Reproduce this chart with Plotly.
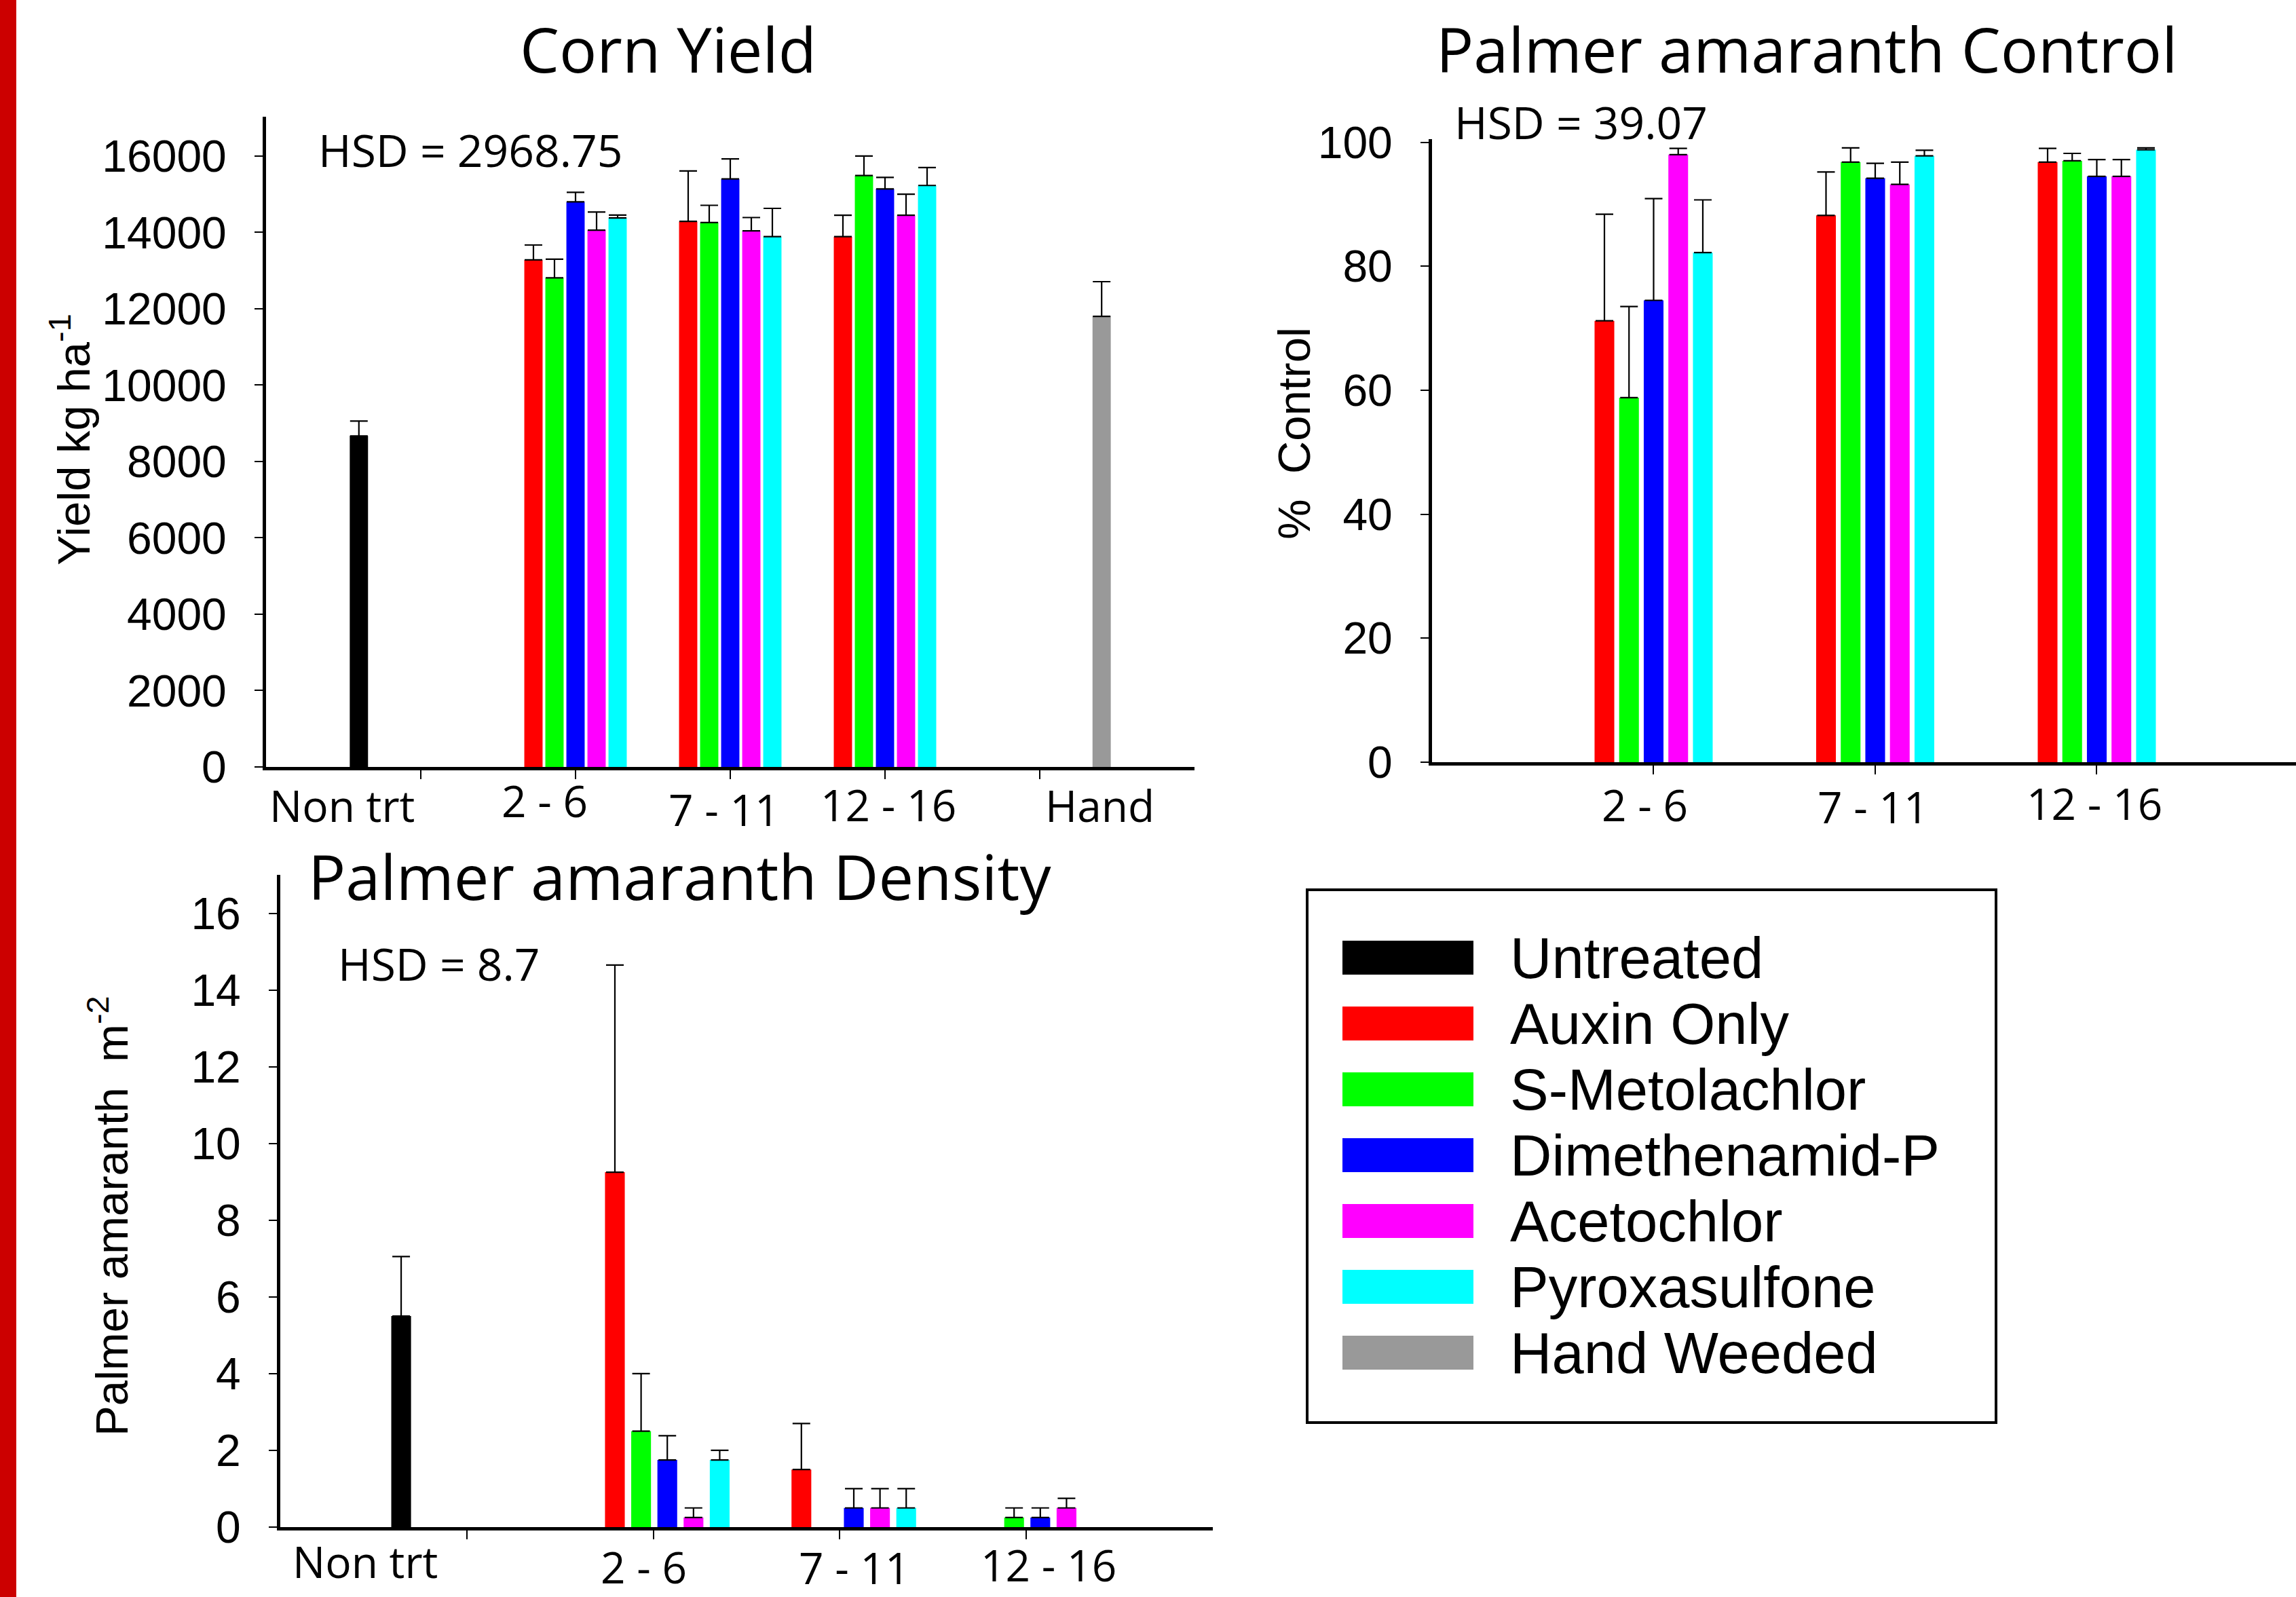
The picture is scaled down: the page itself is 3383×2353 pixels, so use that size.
import plotly.graph_objects as go

W, H = 3383, 2353

def px(x):
    return x / W

def py(y):
    return 1 - y / H

# ---------------- data ----------------
groups = ["2 - 6", "7 - 11", "12 - 16"]
treatments = ["Auxin Only", "S-Metolachlor", "Dimethenamid-P", "Acetochlor", "Pyroxasulfone"]
legend_names = ["Untreated", "Auxin Only", "S-Metolachlor", "Dimethenamid-P",
                "Acetochlor", "Pyroxasulfone", "Hand Weeded"]
legend_colors = ["#000000", "#FF0000", "#00FF00", "#0000FF", "#FF00FF", "#00FFFF", "#999999"]
trt_colors = ["#FF0000", "#00FF00", "#0000FF", "#FF00FF", "#00FFFF"]

# Corn yield (kg/ha)
yield_untreated = [8670]
yield_untreated_err = [390]
yield_hand = [11800]
yield_hand_err = [910]
yield_auxin = [13280, 14290, 13890]
yield_auxin_err = [390, 1320, 560]
yield_smet = [12810, 14260, 15490]
yield_smet_err = [490, 450, 510]
yield_dmta = [14800, 15400, 15140]
yield_dmta_err = [250, 525, 300]
yield_aceto = [14060, 14040, 14450]
yield_aceto_err = [475, 350, 550]
yield_pyrox = [14380, 13890, 15230]
yield_pyrox_err = [75, 740, 470]

# Palmer amaranth control (%)
ctrl_auxin = [71.2, 88.2, 96.8]
ctrl_auxin_err = [17.2, 7.0, 2.2]
ctrl_smet = [58.8, 96.8, 97.0]
ctrl_smet_err = [14.7, 2.3, 1.2]
ctrl_dmta = [74.5, 94.2, 94.5]
ctrl_dmta_err = [16.4, 2.4, 2.7]
ctrl_aceto = [98.0, 93.2, 94.5]
ctrl_aceto_err = [1.0, 3.6, 2.7]
ctrl_pyrox = [82.2, 97.8, 98.8]
ctrl_pyrox_err = [8.5, 0.9, 0.3]

# Palmer amaranth density (plants m-2); None = no bar
dens_untreated = [5.5]
dens_untreated_err = [1.55]
dens_auxin = [9.25, 1.5, None]
dens_auxin_err = [5.4, 1.2, None]
dens_smet = [2.5, None, 0.25]
dens_smet_err = [1.5, None, 0.25]
dens_dmta = [1.75, 0.5, 0.25]
dens_dmta_err = [0.63, 0.5, 0.25]
dens_aceto = [0.25, 0.5, 0.5]
dens_aceto_err = [0.25, 0.5, 0.25]
dens_pyrox = [1.75, 0.5, None]
dens_pyrox_err = [0.25, 0.5, None]

HSD_yield = "HSD = 2968.75"
HSD_ctrl = "HSD = 39.07"
HSD_dens = "HSD = 8.7"

# ---------------- styling ----------------
CAL = "Open Sans, Lato, sans-serif"
ARI = "Liberation Sans, Arial, sans-serif"

fig = go.Figure()

def err(arr):
    return dict(type="data", symmetric=False, array=arr,
                arrayminus=[0 if a is not None else None for a in arr],
                color="black", thickness=2.2, width=13)

def add_bar(xs, ys, es, color, width, xa, ya, name):
    fig.add_trace(go.Bar(x=xs, y=ys, width=width, marker=dict(color=color, line=dict(width=0)),
                         error_y=err(es), xaxis=xa, yaxis=ya, name=name, showlegend=False))

# Corn panel
corn_centers = [2.0, 3.0, 4.0]
corn_step, corn_w = 0.136, 0.118
corn_vals = [yield_auxin, yield_smet, yield_dmta, yield_aceto, yield_pyrox]
corn_errs = [yield_auxin_err, yield_smet_err, yield_dmta_err, yield_aceto_err, yield_pyrox_err]
add_bar([0.6], yield_untreated, yield_untreated_err, "#000000", corn_w, "x", "y", "Untreated")
for i in range(5):
    xs = [c + (i - 2) * corn_step for c in corn_centers]
    add_bar(xs, corn_vals[i], corn_errs[i], trt_colors[i], corn_w, "x", "y", treatments[i])
add_bar([5.4], yield_hand, yield_hand_err, "#999999", corn_w, "x", "y", "Hand Weeded")

# Control panel
ctrl_centers = [1.0, 2.0, 3.0]
ctrl_step, ctrl_w = 0.111, 0.089
ctrl_vals = [ctrl_auxin, ctrl_smet, ctrl_dmta, ctrl_aceto, ctrl_pyrox]
ctrl_errs = [ctrl_auxin_err, ctrl_smet_err, ctrl_dmta_err, ctrl_aceto_err, ctrl_pyrox_err]
for i in range(5):
    xs = [c + (i - 2) * ctrl_step for c in ctrl_centers]
    add_bar(xs, ctrl_vals[i], ctrl_errs[i], trt_colors[i], ctrl_w, "x2", "y2", treatments[i])

# Density panel
dens_centers = [2.075, 3.075, 4.075]
dens_step, dens_w = 0.1405, 0.106
dens_vals = [dens_auxin, dens_smet, dens_dmta, dens_aceto, dens_pyrox]
dens_errs = [dens_auxin_err, dens_smet_err, dens_dmta_err, dens_aceto_err, dens_pyrox_err]
add_bar([0.648], dens_untreated, dens_untreated_err, "#000000", dens_w, "x3", "y3", "Untreated")
for i in range(5):
    xs = [c + (i - 2) * dens_step for c in dens_centers]
    add_bar(xs, dens_vals[i], dens_errs[i], trt_colors[i], dens_w, "x3", "y3", treatments[i])

# ---------------- axes ----------------
def xax(dom, rng, ticks):
    return dict(domain=dom, range=rng, tickvals=ticks, showticklabels=False,
                ticks="outside", ticklen=13, tickwidth=2, tickcolor="black",
                showline=True, linecolor="black", linewidth=5, showgrid=False,
                zeroline=False, fixedrange=True, automargin=False)

def yax(dom, rng, dtick, anchor):
    return dict(domain=dom, range=rng, dtick=dtick, tick0=0, anchor=anchor,
                tickformat="d",
                ticks="outside", ticklen=12, tickwidth=2, tickcolor="black",
                showline=True, linecolor="black", linewidth=5, showgrid=False,
                zeroline=False, tickfont=dict(family=ARI, size=66, color="black"),
                ticklabelstandoff=28, fixedrange=True, automargin=False)

fig.update_layout(
    width=W, height=H, margin=dict(l=0, r=0, t=0, b=0, pad=0, autoexpand=False),
    paper_bgcolor="white", plot_bgcolor="rgba(0,0,0,0)",
    barmode="overlay", showlegend=False,
    xaxis=dict(**xax([px(392), px(1760)], [0, 6], [1, 2, 3, 4, 5]), anchor="y"),
    yaxis=yax([py(1130), py(172)], [0, 17030], 2000, "x"),
    xaxis2=dict(**xax([px(2110), 1.0], [0, 3.899], [1, 2, 3]), anchor="y2"),
    yaxis2=yax([py(1123), py(205)], [0, 100.5], 20, "x2"),
    xaxis3=dict(**xax([px(413), px(1787)], [0, 5], [1, 2, 3, 4]), anchor="y3"),
    yaxis3=yax([py(2250), py(1289)], [0, 17], 2, "x3"),
)

ann = []

def text(t, x, y, size, family, xanchor="center", angle=0, xref="paper"):
    ann.append(dict(text=t, x=x, y=py(y), xref=xref, yref="paper", showarrow=False,
                    xanchor=xanchor, yanchor="middle", textangle=angle,
                    font=dict(family=family, size=size, color="black")))

# titles
text("Corn Yield", px(984), 71, 92, CAL)
text("Palmer amaranth Control", px(2662), 71, 92, CAL)
text("Palmer amaranth Density", px(1002), 1290, 92, CAL)
# HSD
text(HSD_yield, px(467), 220, 66, CAL, xanchor="left")
text(HSD_ctrl, px(2141), 179, 66, CAL, xanchor="left")
text(HSD_dens, px(496), 1419, 66, CAL, xanchor="left")
# y titles
text("Yield kg ha<sup>-1</sup>", px(104), 648, 67, ARI, angle=-90)
text("%  Control", px(1906), 639, 67, ARI, angle=-90)
text("Palmer amaranth  m<sup>-2</sup>", px(160), 1792, 67, ARI, angle=-90)

# category labels
corn_labels = ["Non trt"] + groups + ["Hand"]
corn_lx = [0.49, 1.80, 2.96, 4.02, 5.39]
corn_ly = [1186, 1179, 1192, 1185, 1186]
for t, x, y in zip(corn_labels, corn_lx, corn_ly):
    text(t, x, y, 64, CAL, xref="x")
ctrl_lx = [0.96, 1.99, 2.99]
ctrl_ly = [1185, 1188, 1183]
for t, x, y in zip(groups, ctrl_lx, ctrl_ly):
    text(t, x, y, 64, CAL, xref="x2")
dens_labels = ["Non trt"] + groups
dens_lx = [0.455, 1.95, 3.08, 4.12]
dens_ly = [2300, 2308, 2309, 2305]
for t, x, y in zip(dens_labels, dens_lx, dens_ly):
    text(t, x, y, 64, CAL, xref="x3")

# legend (drawn manually)
shapes = [
    dict(type="rect", xref="paper", yref="paper", x0=0, x1=px(24), y0=0, y1=1,
         fillcolor="#CC0000", line=dict(width=0)),
    dict(type="rect", xref="paper", yref="paper", x0=px(1926), x1=px(2941),
         y0=py(2096), y1=py(1311), line=dict(color="black", width=4), fillcolor="rgba(0,0,0,0)"),
]
for i, (nm, col) in enumerate(zip(legend_names, legend_colors)):
    cy = 1411 + 97 * i
    shapes.append(dict(type="rect", xref="paper", yref="paper", x0=px(1978), x1=px(2171),
                       y0=py(cy + 25), y1=py(cy - 25), fillcolor=col, line=dict(width=0)))
    text(nm, px(2223), cy, 85, ARI, xanchor="left")

fig.update_layout(annotations=ann, shapes=shapes)
fig.write_html("out.html", config={"displayModeBar": False},
               post_script="document.body.style.margin='0';")
